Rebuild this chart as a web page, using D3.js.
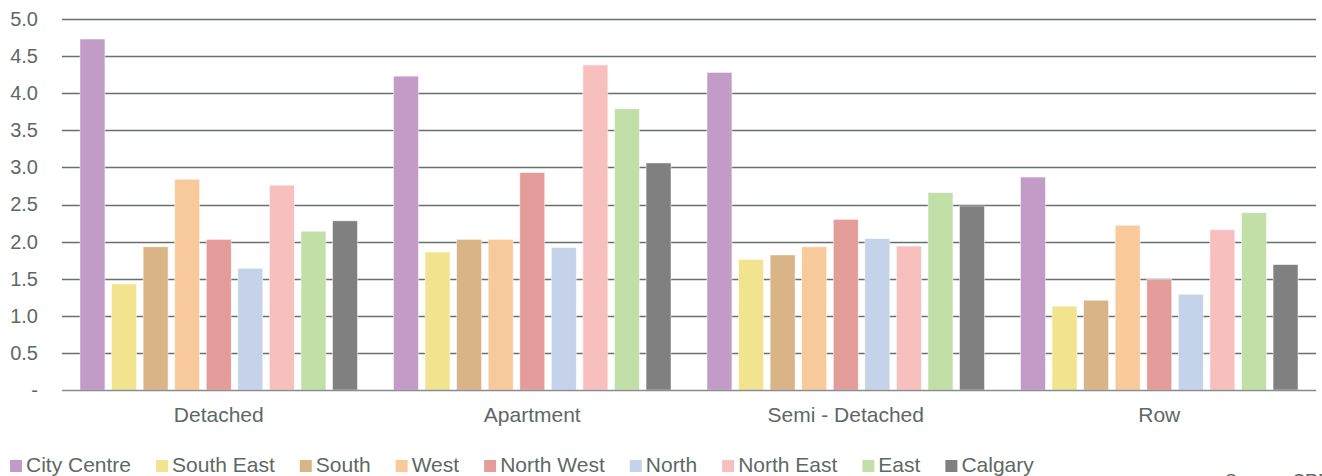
<!DOCTYPE html>
<head>
  <meta charset="utf-8">
  <script src="https://d3js.org/d3.v7.min.js"></script>
  <style>
    body { margin: 0; background: #fff; }
    text { font-family: "Liberation Sans", Arial, sans-serif; fill: #5d6964; }
  </style>
</head>

<body>
  <div id="chart"></div>
</body>

<script>

// data
var categories = ["Detached", "Apartment", "Semi - Detached", "Row"];
var regions = ["City Centre", "South East", "South", "West", "North West", "North", "North East", "East", "Calgary"];
var colors = ["#c39bc7", "#f2e48f", "#d8b487", "#f8ca9b", "#e49c9a", "#c4d3ea", "#f8bfbf", "#c2dfa8", "#808080"];

var cityCentre = [4.73, 4.23, 4.28, 2.87];
var southEast  = [1.43, 1.86, 1.76, 1.13];
var south      = [1.93, 2.03, 1.82, 1.21];
var west       = [2.84, 2.03, 1.93, 2.22];
var northWest  = [2.03, 2.93, 2.30, 1.49];
var north      = [1.64, 1.92, 2.04, 1.29];
var northEast  = [2.76, 4.38, 1.94, 2.16];
var east       = [2.14, 3.79, 2.66, 2.39];
var calgary    = [2.28, 3.06, 2.48, 1.69];

var yTicks = [0, 0.5, 1.0, 1.5, 2.0, 2.5, 3.0, 3.5, 4.0, 4.5, 5.0];

var series = [cityCentre, southEast, south, west, northWest, north, northEast, east, calgary];

var W = 1322, H = 476;
var margin = {top: 19, right: 6, bottom: 86, left: 62};

var svg = d3.select("#chart")
  .append("svg")
    .attr("width", W)
    .attr("height", H);

var x0 = d3.scaleBand()
  .domain(categories)
  .range([margin.left, W - margin.right])
  .padding(0);

var x1 = d3.scaleBand()
  .domain(regions)
  .range([0, x0.bandwidth()])
  .paddingInner(0.21)
  .paddingOuter(0.57);

var y = d3.scaleLinear()
  .domain([0, 5])
  .range([H - margin.bottom, margin.top]);

// gridlines
svg.append("g")
  .selectAll("line")
  .data(yTicks.slice(1))
  .enter()
  .append("line")
    .attr("x1", margin.left)
    .attr("x2", W - margin.right)
    .attr("y1", function(d) { return Math.round(y(d)) + 0.5; })
    .attr("y2", function(d) { return Math.round(y(d)) + 0.5; })
    .style("stroke", "#66706c")
    .style("stroke-width", 1.3);

// y labels
var yAxis = svg.append("g")
  .attr("transform", "translate(" + (margin.left - 24) + ",0)")
  .call(d3.axisLeft(y).tickValues(yTicks).tickSize(0)
    .tickFormat(function(d) { return d === 0 ? "-" : d3.format(".1f")(d); }));
yAxis.select(".domain").remove();
yAxis.selectAll("text")
  .attr("x", 0)
  .style("font-size", "20px")
  .style("fill", "#5d6964");

// bars
var rows = [];
categories.forEach(function(c, i) {
  regions.forEach(function(r, j) {
    rows.push({cat: c, region: r, value: series[j][i], color: colors[j]});
  });
});

svg.append("g")
  .selectAll("rect")
  .data(rows)
  .enter()
  .append("rect")
    .attr("x", function(d) { return x0(d.cat) + x1(d.region); })
    .attr("y", function(d) { return y(d.value); })
    .attr("width", x1.bandwidth())
    .attr("height", function(d) { return y(0) - y(d.value); })
    .style("fill", function(d) { return d.color; })
    .style("stroke", "#ffffff")
    .style("stroke-opacity", 0.6)
    .style("stroke-width", 0.8);

// baseline
svg.append("line")
  .attr("x1", margin.left)
  .attr("x2", W - margin.right)
  .attr("y1", y(0) + 0.5)
  .attr("y2", y(0) + 0.5)
  .style("stroke", "#8a8c8b")
  .style("stroke-width", 1.6);

// x labels
var xAxis = svg.append("g")
  .attr("transform", "translate(0," + y(0) + ")")
  .call(d3.axisBottom(x0).tickSize(0).tickPadding(17));
xAxis.select(".domain").remove();
xAxis.selectAll("text")
  .style("font-size", "21px")
  .style("fill", "#5d6964");

// legend
var legend = svg.append("g");
var lx = 10;
regions.forEach(function(r, j) {
  var g = legend.append("g").attr("transform", "translate(" + lx + ",0)");
  g.append("rect")
    .attr("x", 0)
    .attr("y", 460)
    .attr("width", 12)
    .attr("height", 12)
    .style("fill", colors[j]);
  var t = g.append("text")
    .attr("x", 16)
    .attr("y", 472)
    .style("font-size", "21px")
    .text(r);
  lx += 16 + t.node().getComputedTextLength() + 25;
});

// source note, cut off at the bottom edge as in the original
svg.append("text")
  .attr("x", 1225)
  .attr("y", 487)
  .style("font-size", "18px")
  .text("Source: CREB");

</script>
